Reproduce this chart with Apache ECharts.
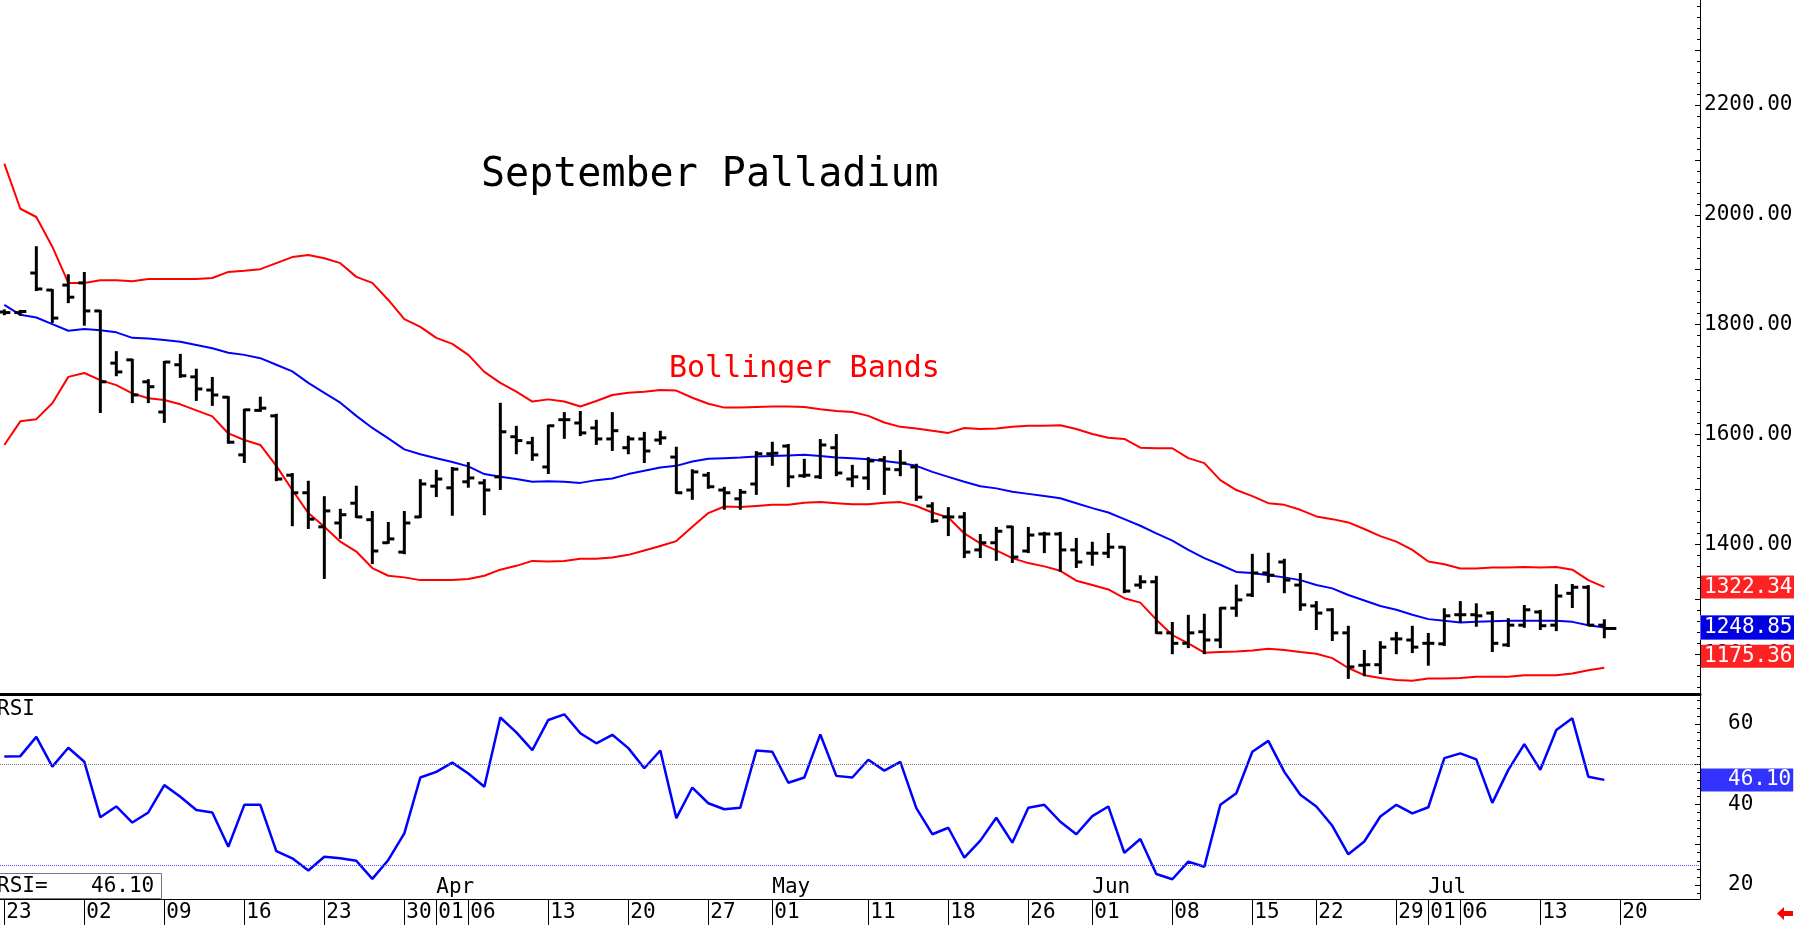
<!DOCTYPE html>
<html>
<head>
<meta charset="utf-8">
<title>September Palladium</title>
<script src="https://cdn.jsdelivr.net/npm/echarts@6/dist/echarts.min.js"></script>
<style>
    html, body { margin: 0; padding: 0; background: #fff; }
    #main { width: 1794px; height: 925px; }
</style>
</head>
<body>
<div id="main"></div>
<script>
// trading days (the last one has no bar yet)
var dates = ['02-23','02-24','02-25','02-26','02-27',
    '03-02','03-03','03-04','03-05','03-06','03-09','03-10','03-11','03-12','03-13',
    '03-16','03-17','03-18','03-19','03-20','03-23','03-24','03-25','03-26','03-27','03-30','03-31',
    '04-01','04-02','04-06','04-07','04-08','04-09','04-10','04-13','04-14','04-15','04-16','04-17',
    '04-20','04-21','04-22','04-23','04-24','04-27','04-28','04-29','04-30',
    '05-01','05-04','05-05','05-06','05-07','05-08','05-11','05-12','05-13','05-14','05-15',
    '05-18','05-19','05-20','05-21','05-22','05-26','05-27','05-28','05-29',
    '06-01','06-02','06-03','06-04','06-05','06-08','06-09','06-10','06-11','06-12',
    '06-15','06-16','06-17','06-18','06-22','06-23','06-24','06-25','06-26','06-29','06-30',
    '07-01','07-02','07-06','07-07','07-08','07-09','07-10','07-13','07-14','07-15','07-16','07-17',
    '07-20'];

// OHLC
var openArr = [1823,1822,1894,1863,1872,1876,1825,1730,1736,1696,1641,1727,1705,1681,1668,1563,1644,1634,1526,1494,
    1432,1439,1475,1445,1403,1386,1450,1506,1503,1514,1512,1523,1596,1585,1541,1627,1621,1612,1592,1576,
    1592,1590,1559,1499,1526,1499,1483,1510,1565,1579,1525,1523,1576,1519,1521,1554,1536,1541,1470,1450,
    1450,1390,1403,1432,1388,1419,1419,1390,1384,1384,1395,1326,1332,1239,1220,1241,1226,1284,1308,1348,
    1368,1326,1288,1281,1239,1180,1181,1228,1226,1220,1219,1272,1272,1275,1217,1253,1277,1253,1311,1322,1253];
var highArr = [1826,1825,1941,1863,1890,1894,1825,1750,1736,1699,1732,1745,1718,1703,1668,1645,1667,1636,1528,1514,
    1486,1463,1505,1459,1439,1459,1517,1534,1539,1548,1517,1656,1614,1594,1616,1639,1641,1625,1639,1596,
    1603,1605,1576,1535,1530,1503,1499,1568,1585,1581,1554,1590,1599,1543,1557,1559,1570,1545,1475,1466,
    1457,1417,1430,1432,1430,1421,1421,1410,1403,1419,1395,1342,1341,1257,1270,1272,1284,1325,1381,1383,
    1372,1346,1295,1282,1250,1206,1222,1239,1250,1237,1282,1295,1291,1277,1264,1288,1279,1326,1326,1324,1262];
var lowArr = [1819,1818,1863,1805,1841,1800,1641,1708,1659,1659,1623,1705,1663,1654,1585,1550,1643,1517,1435,1430,
    1339,1412,1450,1366,1403,1384,1450,1488,1454,1505,1455,1501,1566,1554,1530,1594,1599,1583,1572,1566,
    1550,1583,1494,1483,1503,1465,1465,1492,1545,1506,1523,1521,1526,1506,1501,1492,1526,1481,1441,1417,
    1377,1377,1372,1368,1386,1386,1352,1359,1363,1377,1313,1321,1239,1202,1213,1202,1213,1270,1306,1332,
    1313,1281,1246,1226,1157,1162,1166,1202,1204,1181,1217,1259,1252,1206,1215,1250,1246,1244,1286,1253,1231];
var closeArr = [1822,1824,1865,1812,1850,1825,1696,1714,1672,1687,1732,1707,1683,1672,1586,1645,1648,1519,1494,1446,
    1461,1454,1450,1388,1410,1439,1510,1519,1537,1521,1499,1605,1589,1563,1616,1627,1603,1592,1607,1592,
    1570,1594,1494,1532,1505,1494,1495,1565,1566,1523,1526,1581,1530,1523,1552,1537,1548,1486,1443,1450,
    1386,1403,1424,1377,1417,1419,1390,1368,1384,1395,1315,1332,1239,1220,1239,1226,1284,1299,1348,1344,
    1335,1290,1275,1239,1177,1181,1213,1228,1213,1220,1270,1272,1270,1220,1253,1281,1252,1306,1322,1253,1247];

// Bollinger Bands
var upperBand = [2093,2011,1996,1942,1876,1876,1881,1881,1879,1883,1883,1883,1883,1885,1896,1898,1901,1912,1923,1927,
    1921,1912,1887,1876,1845,1810,1796,1776,1765,1745,1714,1694,1678,1660,1664,1660,1651,1661,1672,1676,
    1678,1681,1680,1667,1656,1649,1649,1650,1651,1651,1650,1646,1643,1641,1634,1622,1614,1611,1607,1603,
    1612,1610,1611,1614,1616,1616,1617,1610,1601,1594,1592,1576,1575,1575,1557,1548,1517,1499,1488,1475,
    1472,1463,1451,1446,1440,1428,1415,1405,1390,1369,1364,1356,1356,1358,1358,1359,1358,1359,1354,1335,1322.34];
var midBand = [1836,1818,1813,1801,1789,1792,1790,1786,1776,1775,1772,1769,1763,1757,1749,1745,1739,1727,1715,1694,
    1676,1658,1634,1612,1593,1573,1564,1557,1550,1542,1528,1523,1519,1514,1515,1514,1512,1517,1520,1528,
    1534,1540,1543,1551,1556,1557,1558,1560,1561,1562,1563,1561,1558,1557,1555,1552,1548,1543,1532,1523,
    1514,1506,1502,1496,1492,1488,1484,1475,1466,1458,1446,1434,1420,1407,1390,1375,1363,1350,1348,1344,
    1340,1335,1326,1320,1308,1298,1288,1281,1272,1264,1261,1258,1259,1260,1261,1261,1261,1261,1259,1253,1248.85];
var lowerBand = [1581,1624,1628,1657,1705,1712,1699,1690,1675,1666,1663,1655,1644,1633,1602,1590,1581,1543,1499,1457,
    1432,1405,1387,1357,1343,1340,1335,1335,1335,1337,1343,1354,1361,1370,1369,1370,1374,1374,1376,1381,
    1389,1397,1406,1432,1457,1469,1468,1470,1472,1472,1476,1477,1475,1473,1473,1476,1477,1470,1458,1449,
    1420,1402,1389,1375,1366,1360,1352,1334,1326,1318,1302,1294,1263,1235,1220,1203,1204,1205,1207,1210,
    1208,1204,1201,1193,1175,1162,1157,1153,1152,1156,1156,1157,1159,1159,1159,1162,1162,1162,1165,1171,1175.36];

// RSI
var rsiArr = [51.9,52.0,56.8,49.4,54.1,50.6,36.8,39.5,35.5,38.0,44.8,41.9,38.6,38.0,29.5,39.9,39.9,28.4,26.6,23.6,
    27.0,26.6,26.0,21.5,26.2,32.8,46.7,48.1,50.4,47.7,44.4,61.6,57.9,53.5,61.0,62.4,57.7,55.2,57.3,54.0,
    49.0,53.4,36.6,44.2,40.3,38.8,39.2,53.4,53.1,45.4,46.7,57.4,47.1,46.7,51.1,48.4,50.6,39.1,32.6,34.2,
    26.8,31.0,36.7,30.5,39.2,39.9,35.7,32.6,37.1,39.5,28.0,31.4,22.7,21.4,25.8,24.5,39.9,42.8,53.1,55.8,
    48.1,42.4,39.5,34.7,27.6,30.8,37.0,39.9,37.8,39.3,51.5,52.7,51.2,40.4,48.6,55.0,48.6,58.5,61.4,46.9,46.1];

// tick labels
var dateTicks = ['02-23','03-02','03-09','03-16','03-23','03-30','04-01','04-06','04-13','04-20','04-27',
    '05-01','05-11','05-18','05-26','06-01','06-08','06-15','06-22','06-29','07-01','07-06','07-13','07-20'];
var monthTicks = ['04-01','05-01','06-01','07-01'];
var monthNames = ['Apr','May','Jun','Jul'];
var priceTicks = [1200,1400,1600,1800,2000,2200];
var rsiTicks = [20,40,60];

var FONT = 'DejaVu Sans Mono';
var X_MIN = -0.27, X_MAX = 105.98;
var P_MIN = 1127.7, P_MAX = 2391;
var R_MIN = 16.5, R_MAX = 67.2;

var last = closeArr.length - 1;
var dateIdx = dateTicks.map(function(d){ return dates.indexOf(d); });
var monthIdx = monthTicks.map(function(d){ return dates.indexOf(d); });

var priceMajor = [], priceMinor = [], rsiMajor = [], rsiMinor = [];
for (var v = 1200; v <= 2300; v += 100) priceMajor.push(v);
for (var v = 1140; v <= 2380; v += 20) priceMinor.push(v);
for (var v = 20; v <= 60; v += 10) rsiMajor.push(v);
for (var v = 18; v <= 66; v += 2) rsiMinor.push(v);

function pairs(arr){
    return arr.map(function(v, i){ return [i, v]; });
}

var ohlcData = closeArr.map(function(c, i){
    return [i, openArr[i], highArr[i], lowArr[i], c];
});

// y axis with only ticks / labels on the right edge
function rightAxis(grid, min, max, extra){
    var a = {
        type: 'value', gridIndex: grid, position: 'right', min: min, max: max,
        axisLine: { show: false, onZero: false },
        axisTick: { show: false },
        axisLabel: { show: false },
        splitLine: { show: false }
    };
    for (var k in extra) a[k] = extra[k];
    return a;
}

// coloured value box on the axis
function boxAxis(grid, min, max, val, bg, opt){
    opt = opt || {};
    return rightAxis(grid, min, max, {
        z: 5,
        axisLabel: {
            show: true, customValues: [val], margin: 1,
            formatter: function(v){ return v.toFixed(2); },
            color: '#fff', fontFamily: FONT, fontSize: 21,
            backgroundColor: bg, padding: opt.padding || [1, 2, 1, 3],
            borderColor: opt.border || bg, borderWidth: opt.border ? 1 : 0,
            verticalAlign: opt.vAlign || 'middle'
        }
    });
}

var myChart = echarts.init(document.getElementById('main'));

var option = {
    animation: false,
    backgroundColor: '#fff',
    title: [
        { text: 'September Palladium', left: 481, top: 156, padding: 0,
          textStyle: { fontFamily: FONT, fontSize: 40, fontWeight: 'normal', color: '#000' } },
        { text: 'Bollinger Bands', left: 669, top: 354, padding: 0,
          textStyle: { fontFamily: FONT, fontSize: 30, fontWeight: 'normal', color: '#ff0000' } },
        { text: 'RSI', left: -3, top: 699, padding: 0,
          textStyle: { fontFamily: FONT, fontSize: 21, fontWeight: 'normal', color: '#000' } },
        { text: '{a|RSI=}{b|' + rsiArr[last].toFixed(2) + '}', left: -5, top: 873,
          padding: [3, 8, 2, 2], backgroundColor: '#fff', borderColor: '#777', borderWidth: 1,
          textStyle: { fontFamily: FONT, fontSize: 21, fontWeight: 'normal', color: '#000',
              rich: { a: { width: 94, fontFamily: FONT, fontSize: 21 }, b: { fontFamily: FONT, fontSize: 21 } } } }
    ],
    grid: [
        { left: 0, right: 94, top: 0, height: 694, outerBoundsMode: 'none' },
        { left: 0, right: 94, top: 695, height: 204, outerBoundsMode: 'none' }
    ],
    xAxis: [
        { type: 'value', gridIndex: 0, min: X_MIN, max: X_MAX, position: 'bottom',
          axisLine: { show: true, onZero: false, lineStyle: { color: '#000', width: 3 } },
          axisTick: { show: false }, axisLabel: { show: false }, splitLine: { show: false } },
        { type: 'value', gridIndex: 1, min: X_MIN, max: X_MAX, position: 'bottom',
          axisLine: { show: true, onZero: false, lineStyle: { color: '#000', width: 1 } },
          axisTick: { show: true, customValues: dateIdx, length: 26, lineStyle: { color: '#000', width: 1 } },
          axisLabel: { show: true, customValues: dateIdx, margin: 3, align: 'left', padding: [0, 0, 0, 2],
              color: '#000', fontFamily: FONT, fontSize: 21,
              formatter: function(v){ return dates[v].slice(3); } },
          splitLine: { show: false } },
        // month names inside the RSI panel
        { type: 'value', gridIndex: 1, min: X_MIN, max: X_MAX, position: 'bottom',
          axisLine: { show: false, onZero: false }, axisTick: { show: false },
          axisLabel: { show: true, inside: true, customValues: monthIdx, margin: 1, align: 'left',
              color: '#000', fontFamily: FONT, fontSize: 21,
              formatter: function(v){ return monthNames[monthIdx.indexOf(v)]; } },
          splitLine: { show: false } }
    ],
    yAxis: [
        rightAxis(0, P_MIN, P_MAX, {
            axisLine: { show: true, onZero: false, lineStyle: { color: '#000', width: 1 } },
            axisTick: { show: true, inside: true, length: 5, customValues: priceMajor, lineStyle: { color: '#000' } },
            axisLabel: { show: true, customValues: priceTicks, margin: 4, color: '#000',
                fontFamily: FONT, fontSize: 21, formatter: function(v){ return v.toFixed(2); } }
        }),
        rightAxis(0, P_MIN, P_MAX, {
            axisTick: { show: true, inside: true, length: 3, customValues: priceMinor, lineStyle: { color: '#000' } }
        }),
        boxAxis(0, P_MIN, P_MAX, upperBand[last], '#ff2222'),
        boxAxis(0, P_MIN, P_MAX, midBand[last], '#0000e0', { border: '#5a5aff' }),
        boxAxis(0, P_MIN, P_MAX, lowerBand[last], '#ff2222', { vAlign: 'bottom' }),
        rightAxis(1, R_MIN, R_MAX, {
            axisLine: { show: true, onZero: false, lineStyle: { color: '#000', width: 1 } },
            axisTick: { show: true, inside: true, length: 5, customValues: rsiMajor, lineStyle: { color: '#000' } },
            axisLabel: { show: true, customValues: rsiTicks, margin: 28, color: '#000',
                fontFamily: FONT, fontSize: 21 }
        }),
        rightAxis(1, R_MIN, R_MAX, {
            axisTick: { show: true, inside: true, length: 3, customValues: rsiMinor, lineStyle: { color: '#000' } }
        }),
        boxAxis(1, R_MIN, R_MAX, rsiArr[last], '#3333ff', { padding: [1, 2, 1, 27] })
    ],
    series: [
        { type: 'line', name: 'upper', xAxisIndex: 0, yAxisIndex: 0, data: pairs(upperBand),
          symbol: 'none', lineStyle: { color: '#ff0000', width: 2 }, z: 2 },
        { type: 'line', name: 'mid', xAxisIndex: 0, yAxisIndex: 0, data: pairs(midBand),
          symbol: 'none', lineStyle: { color: '#0000ff', width: 2 }, z: 2 },
        { type: 'line', name: 'lower', xAxisIndex: 0, yAxisIndex: 0, data: pairs(lowerBand),
          symbol: 'none', lineStyle: { color: '#ff0000', width: 2 }, z: 2 },
        // OHLC bars
        { type: 'custom', name: 'price', xAxisIndex: 0, yAxisIndex: 0, data: ohlcData, z: 3,
          encode: { x: 0, y: [1, 2, 3, 4] },
          renderItem: function(params, api){
              var i = api.value(0);
              var o = api.coord([i, api.value(1)]);
              var h = api.coord([i, api.value(2)]);
              var l = api.coord([i, api.value(3)]);
              var c = api.coord([i, api.value(4)]);
              var x = o[0];
              var rt = params.dataIndex === last ? 12 : 6;
              var st = { stroke: '#000', lineWidth: 3 };
              return { type: 'group', children: [
                  { type: 'line', shape: { x1: x, y1: h[1] - 1, x2: x, y2: l[1] + 1 }, style: st },
                  { type: 'line', shape: { x1: x - 6, y1: o[1], x2: x, y2: o[1] }, style: st },
                  { type: 'line', shape: { x1: x, y1: c[1], x2: x + rt, y2: c[1] }, style: st }
              ] };
          } },
        { type: 'line', name: 'RSI', xAxisIndex: 1, yAxisIndex: 5, data: pairs(rsiArr),
          symbol: 'none', lineStyle: { color: '#0000ff', width: 2.5 }, z: 3,
          markLine: { silent: true, symbol: 'none', label: { show: false },
              data: [
                  { yAxis: 50, lineStyle: { color: '#777', type: 'dotted', width: 1 } },
                  { yAxis: 25, lineStyle: { color: '#5555ff', type: 'dotted', width: 1 } }
              ] } }
    ],
    graphic: [
        { type: 'polygon', right: 1, bottom: 5,
          shape: { points: [[0, 6.5], [7, 0], [7, 4], [16, 4], [16, 9], [7, 9], [7, 13]] },
          style: { fill: '#ff0000' } }
    ]
};

myChart.setOption(option);
</script>
</body>
</html>
